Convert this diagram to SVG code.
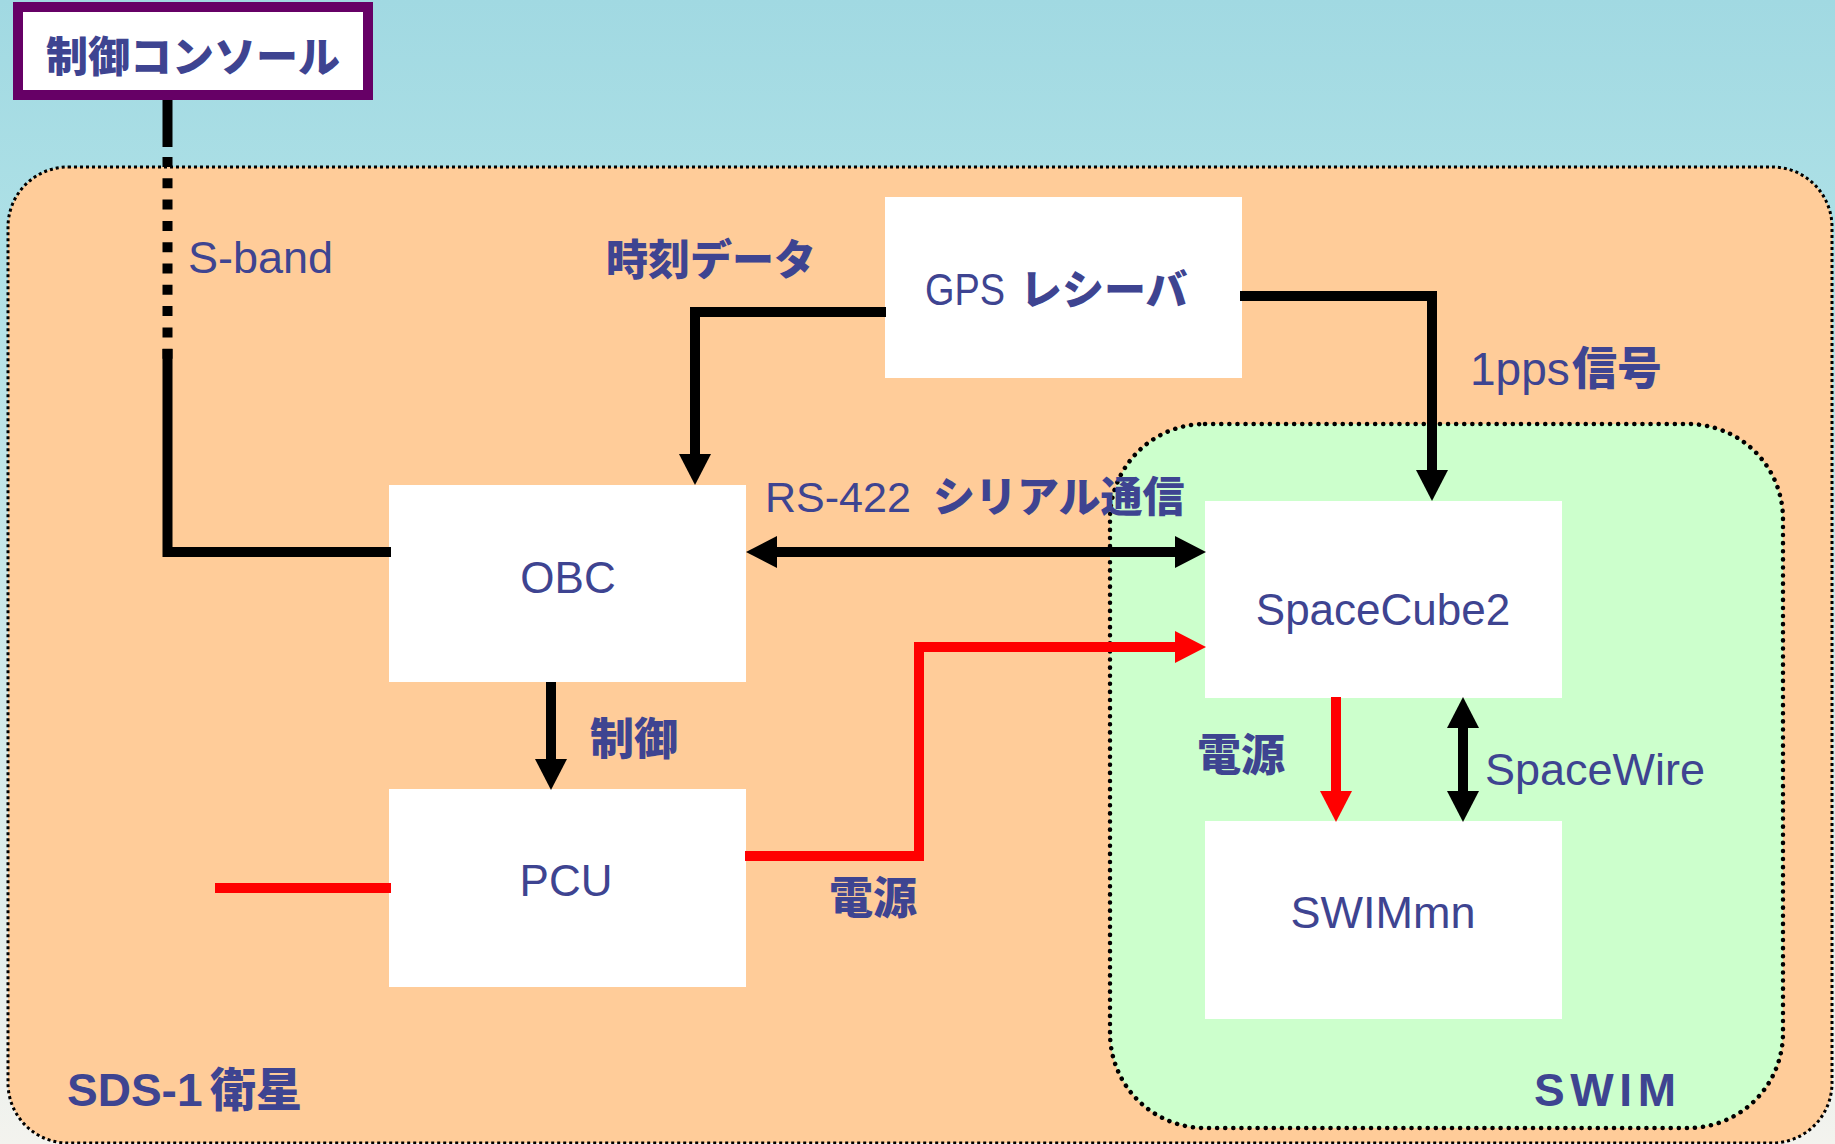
<svg xmlns="http://www.w3.org/2000/svg" width="1835" height="1144" viewBox="0 0 1835 1144">
<defs>
<linearGradient id="bg" x1="0" y1="0" x2="0" y2="1">
<stop offset="0" stop-color="#a1d9e2"/>
<stop offset="0.2" stop-color="#ade0e6"/>
<stop offset="1" stop-color="#f3f3ee"/>
</linearGradient>
<marker id="ahK" markerUnits="userSpaceOnUse" markerWidth="32" markerHeight="32" viewBox="0 0 31 32" refX="11" refY="16" orient="auto-start-reverse">
<path d="M0,0 L31,16 L0,32 z" fill="#000"/>
</marker>
<marker id="ahR" markerUnits="userSpaceOnUse" markerWidth="32" markerHeight="32" viewBox="0 0 31 32" refX="11" refY="16" orient="auto-start-reverse">
<path d="M0,0 L31,16 L0,32 z" fill="#ff0000"/>
</marker>
</defs>
<style>
.t{font-family:"Liberation Sans","Noto Sans CJK JP",sans-serif;fill:#3e4491;}
.r{font-weight:normal;}
.b{font-weight:900;}
.box{fill:#ffffff;}
.k{fill:none;stroke:#000;stroke-width:10;stroke-linejoin:miter;}
.red{fill:none;stroke:#ff0000;stroke-width:10;stroke-linejoin:miter;}
</style>
<rect x="0" y="0" width="1835" height="1144" fill="url(#bg)"/>

<g id="sds1">
<rect x="8" y="167" width="1824" height="976" rx="60" ry="60" fill="#ffcc99" stroke="#000" stroke-width="3" stroke-dasharray="3 3"/>
<text class="t b" x="67" y="1106" font-size="46">SDS-1<tspan x="210">衛星</tspan></text>
</g>

<g id="swim">
<rect x="1110" y="424" width="673" height="704" rx="95" ry="95" fill="#ccffcc" stroke="#000" stroke-width="4.5" stroke-linecap="round" stroke-dasharray="0.1 8"/>
<text class="t b" x="1534" y="1106" font-size="46" textLength="142" lengthAdjust="spacing">SWIM</text>
</g>

<g id="console">
<rect x="18" y="7" width="350" height="88" fill="#ffffff" stroke="#660066" stroke-width="10"/>
<text class="t b" x="193" y="72" font-size="42" text-anchor="middle">制御コンソール</text>
</g>

<g id="gps">
<rect class="box" x="885" y="197" width="357" height="181"/>
<text class="t r" x="925" y="305" font-size="44"><tspan textLength="80" lengthAdjust="spacingAndGlyphs">GPS</tspan><tspan class="b" x="1020" font-size="42">レシーバ</tspan></text>
</g>

<g id="obc">
<rect class="box" x="389" y="485" width="357" height="197"/>
<text class="t r" x="568" y="593" font-size="44" text-anchor="middle">OBC</text>
</g>

<g id="pcu">
<rect class="box" x="389" y="789" width="357" height="198"/>
<text class="t r" x="566" y="896" font-size="44" text-anchor="middle">PCU</text>
</g>

<g id="spacecube2">
<rect class="box" x="1205" y="501" width="357" height="197"/>
<text class="t r" x="1383" y="625" font-size="44" text-anchor="middle">SpaceCube2</text>
</g>

<g id="swimmn">
<rect class="box" x="1205" y="821" width="357" height="198"/>
<text class="t r" x="1383" y="928" font-size="45" text-anchor="middle">SWIMmn</text>
</g>

<g id="connectors">
<path class="k" d="M167.5,100 V147"/>
<path class="k" d="M167.5,157 V359" stroke-dasharray="10 11.3"/>
<path class="k" d="M167.5,349 V552 H391"/>
<path class="k" d="M886,312 H695 V465" marker-end="url(#ahK)"/>
<path class="k" d="M1240,296 H1432 V481" marker-end="url(#ahK)"/>
<path class="k" d="M766,552 H1186" marker-start="url(#ahK)" marker-end="url(#ahK)"/>
<path class="k" d="M551,682 V770" marker-end="url(#ahK)"/>
<path class="red" d="M745,856 H919 V647 H1186" marker-end="url(#ahR)"/>
<path class="red" d="M215,888 H391" stroke-width="11"/>
<path class="red" d="M1336,697 V802" marker-end="url(#ahR)"/>
<path class="k" d="M1463,717 V802" marker-start="url(#ahK)" marker-end="url(#ahK)"/>
</g>

<g id="labels">
<text class="t r" x="188" y="273" font-size="45">S-band</text>
<text class="t b" x="606" y="275" font-size="42">時刻データ</text>
<text class="t r" x="1470" y="385" font-size="46">1pps<tspan class="b" x="1572" font-size="45">信号</tspan></text>
<text class="t r" x="765" y="512" font-size="43">RS-422<tspan class="b" x="933" font-size="42">シリアル通信</tspan></text>
<text class="t b" x="590" y="755" font-size="44">制御</text>
<text class="t b" x="829" y="914" font-size="44">電源</text>
<text class="t b" x="1197" y="771" font-size="44">電源</text>
<text class="t r" x="1485" y="785" font-size="45">SpaceWire</text>
</g>
</svg>
